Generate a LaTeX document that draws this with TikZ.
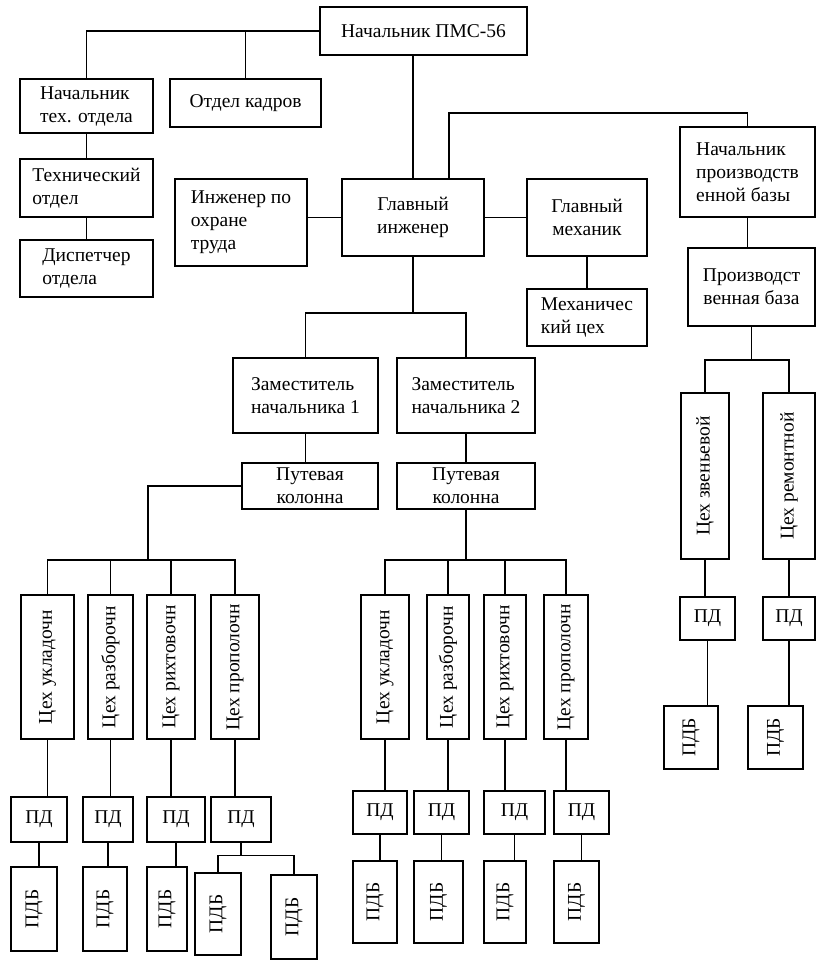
\documentclass[tikz,border=0pt]{standalone}
\usepackage{fontspec}
\setmainfont{Liberation Serif}
\usetikzlibrary{positioning, calc}

\begin{document}
\begin{tikzpicture}[x=1pt, y=-1pt, line width=1.2pt]
  \useasboundingbox (0,0) rectangle (826,964);

  % Define styles
  \tikzstyle{unit} = [rectangle, draw=black, line width=1.3pt, inner sep=2pt, font=\fontsize{19.5}{23}\selectfont]
  \tikzstyle{shop} = [unit, minimum height=144pt]
  \tikzstyle{pd} = [unit, minimum height=45pt]
  \tikzstyle{pdb} = [unit, minimum height=84pt]
  \tikzstyle{link} = [draw, line width=1.3pt]

  % Place nodes
  \node [unit, minimum width=207pt, minimum height=48pt] (chief) at (423.5,31) {Начальник ПМС-56};
  \node [unit, minimum width=133pt, minimum height=54pt, align=left] (techhead) at (86.5,106) {Начальник\\тех. отдела};
  \node [unit, minimum width=151pt, minimum height=48pt] (staff) at (245.5,103) {Отдел кадров};
  \node [unit, minimum width=133pt, minimum height=58pt, align=left] (techdept) at (86.5,188) {Технический\\отдел};
  \node [unit, minimum width=133pt, minimum height=57pt, align=left] (dispatch) at (86.5,268.5) {Диспетчер\\отдела};
  \node [unit, minimum width=132pt, minimum height=87pt, align=left] (safety) at (241,222.5) {Инженер по\\охране\\труда};
  \node [unit, minimum width=142pt, minimum height=77pt, align=center] (chiefeng) at (413,217.5) {Главный\\инженер};
  \node [unit, minimum width=120pt, minimum height=77pt, align=center] (chiefmech) at (587,217.5) {Главный\\механик};
  \node [unit, minimum width=135pt, minimum height=90pt, align=left] (basehead) at (747.5,172) {Начальник\\производств\\енной базы};
  \node [unit, minimum width=120pt, minimum height=57pt, align=left] (mechshop) at (587,317.5) {Механичес\\кий цех};
  \node [unit, minimum width=127pt, minimum height=78pt, align=center] (base) at (751.5,287) {Производст\\венная база};
  \node [unit, minimum width=145pt, minimum height=75pt, align=left] (dep1) at (305.5,395.5) {Заместитель\\начальника 1};
  \node [unit, minimum width=138pt, minimum height=75pt, align=left] (dep2) at (466,395.5) {Заместитель\\начальника 2};
  \node [unit, minimum width=136pt, minimum height=46pt, align=center] (col1) at (310,486) {Путевая\\колонна};
  \node [unit, minimum width=138pt, minimum height=46pt, align=center] (col2) at (466,486) {Путевая\\колонна};

  \node [shop, minimum width=53pt] (s1) at (47.5,667) {\rotatebox{90}{Цех укладочн}};
  \node [shop, minimum width=45pt] (s2) at (110.5,667) {\rotatebox{90}{Цех разборочн}};
  \node [shop, minimum width=48pt] (s3) at (171,667) {\rotatebox{90}{Цех рихтовочн}};
  \node [shop, minimum width=48pt] (s4) at (235,667) {\rotatebox{90}{Цех прополочн}};
  \node [shop, minimum width=48pt] (s5) at (385,667) {\rotatebox{90}{Цех укладочн}};
  \node [shop, minimum width=42pt] (s6) at (448,667) {\rotatebox{90}{Цех разборочн}};
  \node [shop, minimum width=42pt] (s7) at (505,667) {\rotatebox{90}{Цех рихтовочн}};
  \node [shop, minimum width=44pt] (s8) at (566,667) {\rotatebox{90}{Цех прополочн}};
  \node [shop, minimum width=48pt, minimum height=166pt] (b1) at (705,476) {\rotatebox{90}{Цех звеньевой}};
  \node [shop, minimum width=52pt, minimum height=166pt] (b2) at (789,476) {\rotatebox{90}{Цех ремонтной}};

  \node [pd, minimum width=56pt] (p1) at (39,819.5) {ПД};
  \node [pd, minimum width=50pt] (p2) at (108,819.5) {ПД};
  \node [pd, minimum width=58pt] (p3) at (176,819.5) {ПД};
  \node [pd, minimum width=60pt] (p4) at (241,819.5) {ПД};
  \node [pd, minimum width=54pt, minimum height=43pt] (p5) at (380,812.5) {ПД};
  \node [pd, minimum width=55pt, minimum height=43pt] (p6) at (441.5,812.5) {ПД};
  \node [pd, minimum width=61pt, minimum height=43pt] (p7) at (514.5,812.5) {ПД};
  \node [pd, minimum width=55pt, minimum height=43pt] (p8) at (581.5,812.5) {ПД};
  \node [pd, minimum width=55pt, minimum height=43pt] (pb1) at (707.5,618.5) {ПД};
  \node [pd, minimum width=52pt, minimum height=43pt] (pb2) at (789,618.5) {ПД};

  \node [pdb, minimum width=46pt] (q1) at (34,909) {\rotatebox{90}{ПДБ}};
  \node [pdb, minimum width=44pt] (q2) at (105,909) {\rotatebox{90}{ПДБ}};
  \node [pdb, minimum width=40pt] (q3) at (167,909) {\rotatebox{90}{ПДБ}};
  \node [pdb, minimum width=46pt, minimum height=82pt] (q4) at (218,914) {\rotatebox{90}{ПДБ}};
  \node [pdb, minimum width=46pt] (q5) at (294,917) {\rotatebox{90}{ПДБ}};
  \node [pdb, minimum width=44pt, minimum height=82pt] (q6) at (375,902) {\rotatebox{90}{ПДБ}};
  \node [pdb, minimum width=49pt, minimum height=82pt] (q7) at (438.5,902) {\rotatebox{90}{ПДБ}};
  \node [pdb, minimum width=42pt, minimum height=82pt] (q8) at (505,902) {\rotatebox{90}{ПДБ}};
  \node [pdb, minimum width=45pt, minimum height=82pt] (q9) at (576.5,902) {\rotatebox{90}{ПДБ}};
  \node [pdb, minimum width=54pt, minimum height=63pt] (qb1) at (691,737.5) {\rotatebox{90}{ПДБ}};
  \node [pdb, minimum width=55pt, minimum height=63pt] (qb2) at (775.5,737.5) {\rotatebox{90}{ПДБ}};

  % Bus points
  \coordinate (busP) at (449,113);
  \coordinate (busD) at (413,313);
  \coordinate (busL) at (148,560);
  \coordinate (busR) at (466,560);
  \coordinate (busB) at (751.5,360);

  % Draw edges
  \path [link] (chief.west) -| (techhead.north);
  \path [link] (staff.north) -- (staff.north |- chief.west);
  \path [link] (chiefeng.north) -- (chiefeng.north |- chief.south);
  \path [link] (busP |- chiefeng.north) -- (busP) -| (basehead.north);
  \path [link] (techhead) -- (techdept);
  \path [link] (techdept) -- (dispatch);
  \path [link] (chiefeng.west) -- (chiefeng.west -| safety.east);
  \path [link] (chiefeng.east) -- (chiefeng.east -| chiefmech.west);
  \path [link] (chiefmech) -- (mechshop);
  \path [link] (basehead.south) -- (basehead.south |- base.north);
  \path [link] (chiefeng.south) -- (busD);
  \path [link] (dep1.north) |- (busD) -| (dep2.north);
  \path [link] (dep1.south) -- (dep1.south |- col1.north);
  \path [link] (dep2.south) -- (dep2.south |- col2.north);

  \path [link] (col1.west) -| (busL);
  \path [link] (s1.north) |- (busL) -| (s4.north);
  \path [link] (s2.north) -- (s2.north |- busL);
  \path [link] (s3.north) -- (s3.north |- busL);
  \path [link] (col2.south) -- (busR);
  \path [link] (s5.north) |- (busR) -| (s8.north);
  \path [link] (s6.north) -- (s6.north |- busR);
  \path [link] (s7.north) -- (s7.north |- busR);
  \path [link] (base.south) -- (busB);
  \path [link] (b1.north) |- (busB) -| (b2.north);

  \path [link] (s1.south) -- (s1.south |- p1.north);
  \path [link] (s2.south) -- (s2.south |- p2.north);
  \path [link] (s3.south) -- (s3.south |- p3.north);
  \path [link] (s4.south) -- (s4.south |- p4.north);
  \path [link] (s5.south) -- (s5.south |- p5.north);
  \path [link] (s6.south) -- (s6.south |- p6.north);
  \path [link] (s7.south) -- (s7.south |- p7.north);
  \path [link] (s8.south) -- (s8.south |- p8.north);
  \path [link] (b1.south) -- (b1.south |- pb1.north);
  \path [link] (b2.south) -- (b2.south |- pb2.north);

  \path [link] (p1.south) -- (p1.south |- q1.north);
  \path [link] (p2.south) -- (p2.south |- q2.north);
  \path [link] (p3.south) -- (p3.south |- q3.north);
  \path [link] (p4.south) -- ++(0,13) coordinate (p4bus);
  \path [link] (q4.north) |- (p4bus) -| (q5.north);
  \path [link] (p5.south) -- (p5.south |- q6.north);
  \path [link] (p6.south) -- (p6.south |- q7.north);
  \path [link] (p7.south) -- (p7.south |- q8.north);
  \path [link] (p8.south) -- (p8.south |- q9.north);
  \path [link] (pb1.south) -- (pb1.south |- qb1.north);
  \path [link] (pb2.south) -- (pb2.south |- qb2.north);

\end{tikzpicture}
\end{document}
